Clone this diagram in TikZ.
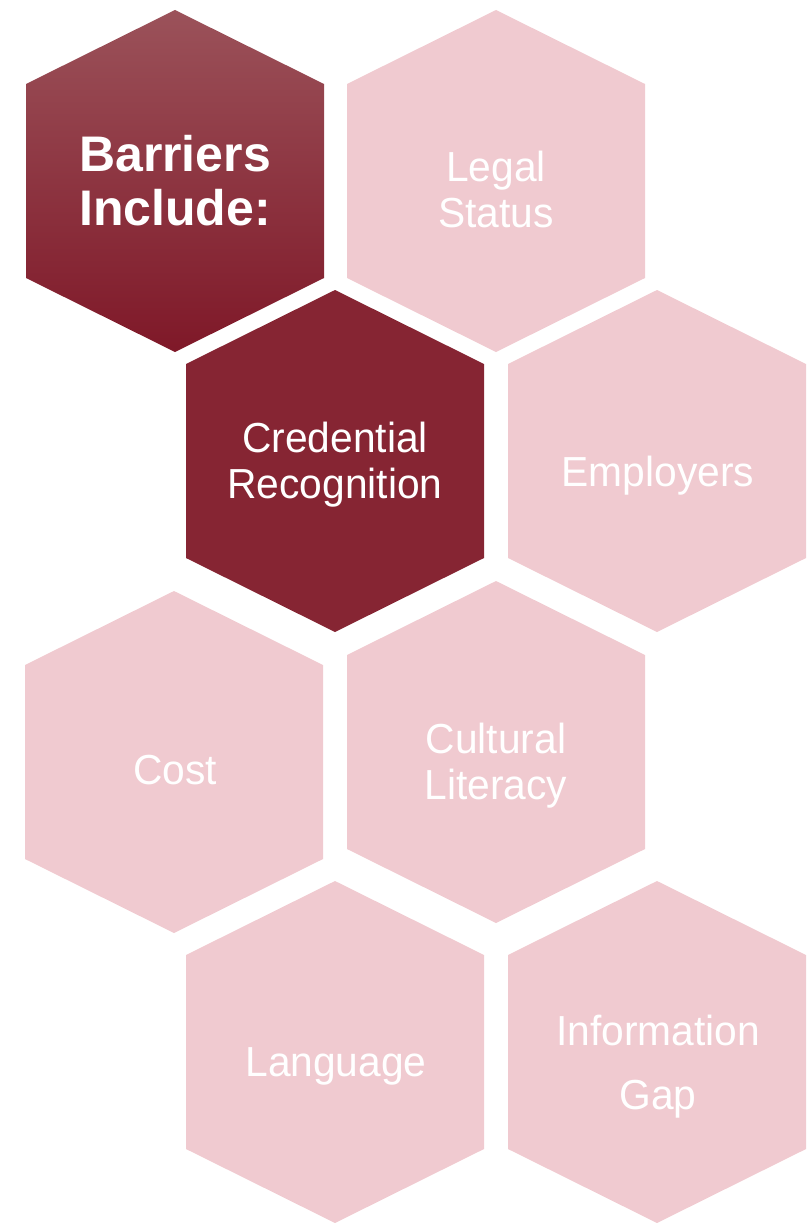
\documentclass[tikz,border=0pt]{standalone}
\usepackage{fontspec}
\setmainfont{Liberation Sans}

\definecolor{darkred}{RGB}{134,37,51}
\definecolor{gradtop}{RGB}{155,82,90}
\definecolor{gradbot}{RGB}{127,24,40}
\definecolor{palepink}{RGB}{240,202,208}

\begin{document}
\begin{tikzpicture}[x=1pt,y=-1pt,
	hexcell/.pic={\path[pic actions] (0,-171) -- (149,-97) -- (149,97) -- (0,171) -- (-149,97) -- (-149,-97) -- cycle;},
	label text/.style={text=white,align=center,inner sep=0pt,anchor=north,font=\addfontfeature{FakeStretch=0.97}\fontsize{42}{46}\selectfont},
	title text/.style={label text,font=\bfseries\fontsize{50}{54}\selectfont}]
	
	\useasboundingbox (0,0) rectangle (808,1223);
	
	% hexagon centres
	\coordinate (hbar) at (175,181);
	\coordinate (hlegal) at (496,181);
	\coordinate (hcred) at (335,461);
	\coordinate (hemp) at (657,461);
	\coordinate (hcost) at (174,762);
	\coordinate (hcult) at (496,752);
	\coordinate (hlang) at (335,1052);
	\coordinate (hinfo) at (657,1052);
	
	\pic[top color=gradtop,bottom color=gradbot] at (hbar) {hexcell};
	\pic[fill=darkred] at (hcred) {hexcell};
	\foreach \c in {hlegal,hemp,hcost,hcult,hlang,hinfo}
		\pic[fill=palepink] at (\c) {hexcell};
	
	\node[title text] (barriers) at (175,135) {Barriers\\Include:};
	\node[label text] (legal) at (496,151) {Legal\\Status};
	\node[label text] (credential) at (335,422) {Credential\\Recognition};
	\node[label text] (employers) at (658,456) {Employers};
	\node[label text] (cost) at (175,755) {Cost};
	\node[label text] (cultural) at (496,723) {Cultural\\Literacy};
	\node[label text] (language) at (336,1047) {Language};
	\node[label text] (infogap) at (658,1015) {Information\\[18pt]Gap};
\end{tikzpicture}
\end{document}
